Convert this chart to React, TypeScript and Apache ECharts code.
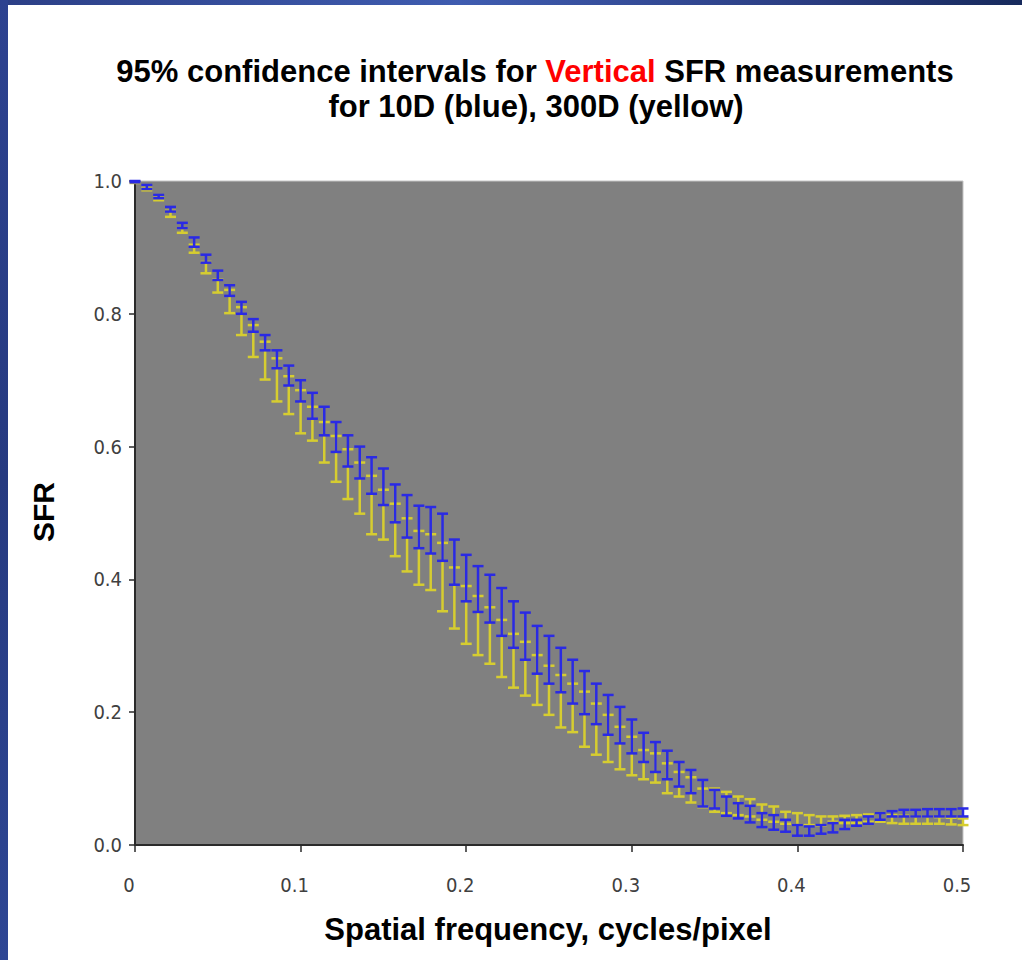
import React, { useEffect, useRef } from "react";
import * as echarts from "echarts";

// Spatial frequency (cycles/pixel) of each measurement
const freq = [
  0, 0.00714, 0.01429, 0.02143, 0.02857, 0.03571, 0.04286, 0.05, 0.05714, 0.06429,
  0.07143, 0.07857, 0.08571, 0.09286, 0.1, 0.10714, 0.11429, 0.12143, 0.12857, 0.13571,
  0.14286, 0.15, 0.15714, 0.16429, 0.17143, 0.17857, 0.18571, 0.19286, 0.2, 0.20714,
  0.21429, 0.22143, 0.22857, 0.23571, 0.24286, 0.25, 0.25714, 0.26429, 0.27143, 0.27857,
  0.28571, 0.29286, 0.3, 0.30714, 0.31429, 0.32143, 0.32857, 0.33571, 0.34286, 0.35,
  0.35714, 0.36429, 0.37143, 0.37857, 0.38571, 0.39286, 0.4, 0.40714, 0.41429, 0.42143,
  0.42857, 0.43571, 0.44286, 0.45, 0.45714, 0.46429, 0.47143, 0.47857, 0.48571, 0.49286,
  0.5,
];

// 10D (blue) 95% interval: upper and lower bounds
const blueHigh = [
  1.0, 0.994, 0.979, 0.961, 0.937, 0.915, 0.889, 0.865, 0.843, 0.818,
  0.792, 0.768, 0.745, 0.722, 0.7, 0.681, 0.66, 0.637, 0.617, 0.6,
  0.584, 0.567, 0.543, 0.527, 0.511, 0.509, 0.499, 0.46, 0.437, 0.42,
  0.407, 0.387, 0.367, 0.35, 0.33, 0.315, 0.297, 0.279, 0.262, 0.243,
  0.226, 0.208, 0.189, 0.169, 0.155, 0.142, 0.125, 0.113, 0.098, 0.083,
  0.073, 0.063, 0.059, 0.048, 0.045, 0.038, 0.03, 0.028, 0.03, 0.033,
  0.038, 0.038, 0.043, 0.048, 0.051, 0.053, 0.053, 0.054, 0.054, 0.054,
  0.055,
];
const blueLow = [
  0.998, 0.988, 0.974, 0.954, 0.929, 0.901, 0.877, 0.851, 0.827, 0.8,
  0.773, 0.745, 0.718, 0.692, 0.668, 0.642, 0.617, 0.592, 0.57, 0.552,
  0.529, 0.512, 0.486, 0.463, 0.447, 0.439, 0.428, 0.392, 0.367, 0.351,
  0.335, 0.315, 0.297, 0.279, 0.258, 0.243, 0.23, 0.213, 0.197, 0.182,
  0.166, 0.153, 0.138, 0.125, 0.11, 0.099, 0.088, 0.078, 0.058, 0.055,
  0.044, 0.04, 0.034, 0.027, 0.023, 0.02, 0.014, 0.014, 0.017, 0.019,
  0.024, 0.029, 0.032, 0.038, 0.043, 0.043, 0.043, 0.043, 0.043, 0.043,
  0.043,
];

// 300D (yellow) 95% interval: upper and lower bounds
const yellowHigh = [
  0.999, 0.99, 0.975, 0.955, 0.929, 0.904, 0.878, 0.852, 0.836, 0.81,
  0.783, 0.758, 0.733, 0.706, 0.685, 0.66, 0.637, 0.616, 0.596, 0.576,
  0.556, 0.535, 0.514, 0.492, 0.473, 0.468, 0.455, 0.418, 0.39, 0.375,
  0.358, 0.339, 0.318, 0.306, 0.286, 0.27, 0.256, 0.243, 0.231, 0.213,
  0.196, 0.178, 0.163, 0.143, 0.138, 0.123, 0.11, 0.102, 0.085, 0.085,
  0.08, 0.073, 0.069, 0.061, 0.058, 0.05, 0.048, 0.045, 0.043, 0.043,
  0.044, 0.045, 0.046, 0.048, 0.045, 0.044, 0.043, 0.043, 0.042, 0.041,
  0.04,
];
const yellowLow = [
  0.997, 0.986, 0.971, 0.946, 0.922, 0.892, 0.861, 0.832, 0.801, 0.768,
  0.735, 0.701, 0.668, 0.649, 0.62, 0.609, 0.576, 0.547, 0.521, 0.499,
  0.468, 0.46, 0.435, 0.412, 0.392, 0.384, 0.352, 0.326, 0.303, 0.286,
  0.273, 0.253, 0.237, 0.225, 0.211, 0.196, 0.177, 0.17, 0.148, 0.136,
  0.125, 0.114, 0.105, 0.099, 0.094, 0.078, 0.073, 0.064, 0.057, 0.05,
  0.048, 0.045, 0.043, 0.038, 0.035, 0.032, 0.03, 0.03, 0.029, 0.035,
  0.033, 0.033, 0.035, 0.035, 0.033, 0.032, 0.032, 0.032, 0.032, 0.031,
  0.03,
];

const xTicks = [0, 0.1, 0.2, 0.3, 0.4, 0.5];
const yTicks = [0, 0.2, 0.4, 0.6, 0.8, 1.0];

const FONT = "Liberation Sans, Arial, sans-serif";
const LABEL_FONT = "Liberation Sans Narrow, Arial Narrow, DejaVu Sans Condensed, Liberation Sans, sans-serif";
const BLUE = "#2a2ae4";
const YELLOW = "#d6cd30";

function errorBar(color: string) {
  return (params: any, api: any) => {
    const x = api.value(0);
    const hi = api.value(1);
    const lo = api.value(2);
    const pHi = api.coord([x, hi]);
    const pLo = api.coord([x, lo]);
    const hw = 5.5;
    const style = { stroke: color, lineWidth: 2.5 };
    return {
      type: "group",
      children: [
        { type: "line", shape: { x1: pHi[0], y1: pHi[1], x2: pLo[0], y2: pLo[1] }, style },
        { type: "line", shape: { x1: pHi[0] - hw, y1: pHi[1], x2: pHi[0] + hw, y2: pHi[1] }, style },
        { type: "line", shape: { x1: pLo[0] - hw, y1: pLo[1], x2: pLo[0] + hw, y2: pLo[1] }, style },
      ],
    };
  };
}

export default function App() {
  const ref = useRef<HTMLDivElement>(null);

  useEffect(() => {
    if (!ref.current) return;
    const chart = echarts.init(ref.current, undefined, { renderer: "svg" });

    const yellowData = freq.map((f, i) => [f, yellowHigh[i], yellowLow[i]]);
    const blueData = freq.map((f, i) => [f, blueHigh[i], blueLow[i]]);

    chart.setOption({
      animation: false,
      backgroundColor: "#ffffff",
      grid: {
        left: 135,
        right: 59,
        top: 181,
        bottom: 115,
        show: true,
        backgroundColor: "#808080",
        borderColor: "#c4c4c4",
        borderWidth: 1,
      },
      xAxis: {
        type: "value",
        min: 0,
        max: 0.5,
        interval: 0.1,
        axisLine: { show: true, onZero: false, lineStyle: { color: "#2a2a2a", width: 2 } },
        axisTick: { show: true, length: 7, lineStyle: { color: "#2a2a2a", width: 1.5 } },
        splitLine: { show: false },
        axisLabel: {
          margin: 30,
          fontFamily: LABEL_FONT,
          fontSize: 20,
          color: "#404040",
          padding: [0, 12, 0, 0],
          formatter: (v: number) => {
            const r = Math.round(v * 10) / 10;
            return xTicks.includes(r) ? String(r) : "";
          },
        },
      },
      yAxis: {
        type: "value",
        min: 0,
        max: 1,
        interval: 0.2,
        axisLine: { show: true, lineStyle: { color: "#2a2a2a", width: 2 } },
        axisTick: { show: true, length: 6, lineStyle: { color: "#2a2a2a", width: 1.5 } },
        splitLine: { show: false },
        axisLabel: {
          margin: 13,
          fontFamily: LABEL_FONT,
          fontSize: 20,
          color: "#404040",
          formatter: (v: number) => {
            const r = Math.round(v * 10) / 10;
            return yTicks.includes(r) ? r.toFixed(1) : "";
          },
        },
      },
      graphic: [
        {
          type: "rect",
          shape: { x: 0, y: 0, width: 1022, height: 5 },
          style: {
            fill: new echarts.graphic.LinearGradient(0, 0, 1, 0, [
              { offset: 0, color: "#2c3f86" },
              { offset: 0.45, color: "#3f5cb0" },
              { offset: 0.8, color: "#2a3c80" },
              { offset: 1, color: "#172a5c" },
            ]),
          },
          silent: true,
        },
        {
          type: "rect",
          shape: { x: 0, y: 0, width: 8, height: 960 },
          style: {
            fill: new echarts.graphic.LinearGradient(0, 0, 0, 1, [
              { offset: 0, color: "#2d4290" },
              { offset: 0.5, color: "#263a80" },
              { offset: 1, color: "#2e4694" },
            ]),
          },
          silent: true,
        },
        {
          type: "text",
          x: 535,
          y: 71,
          style: {
            text: "95% confidence intervals for {r|Vertical} SFR measurements",
            font: `bold 31px ${FONT}`,
            fill: "#000000",
            textAlign: "center",
            textVerticalAlign: "middle",
            rich: {
              r: { fill: "#ff0000", fontSize: 31, fontWeight: "bold", fontFamily: FONT },
            },
          },
        },
        {
          type: "text",
          x: 536,
          y: 106,
          style: {
            text: "for 10D (blue), 300D (yellow)",
            font: `bold 31px ${FONT}`,
            fill: "#000000",
            textAlign: "center",
            textVerticalAlign: "middle",
          },
        },
        {
          type: "text",
          x: 548,
          y: 929,
          style: {
            text: "Spatial frequency, cycles/pixel",
            font: `bold 31px ${FONT}`,
            fill: "#000000",
            textAlign: "center",
            textVerticalAlign: "middle",
          },
        },
        {
          type: "text",
          x: 43,
          y: 512,
          rotation: Math.PI / 2,
          style: {
            text: "SFR",
            font: `bold 30px ${FONT}`,
            fill: "#000000",
            textAlign: "center",
            textVerticalAlign: "middle",
          },
        },
      ],
      series: [
        {
          name: "300D",
          type: "custom",
          renderItem: errorBar(YELLOW),
          encode: { x: 0, y: [1, 2] },
          data: yellowData,
          z: 2,
        },
        {
          name: "10D",
          type: "custom",
          renderItem: errorBar(BLUE),
          encode: { x: 0, y: [1, 2] },
          data: blueData,
          z: 3,
        },
      ],
    });

    return () => chart.dispose();
  }, []);

  return (
    <div
      ref={ref}
      style={{ position: "absolute", left: 0, top: 0, width: 1022, height: 960 }}
    />
  );
}
